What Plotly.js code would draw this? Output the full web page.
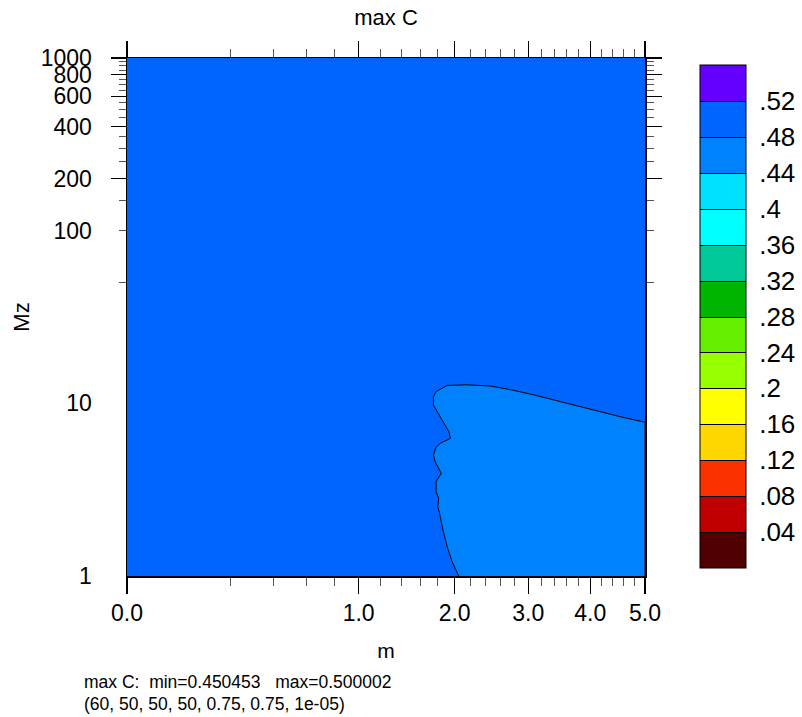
<!DOCTYPE html>
<html>
<head>
<meta charset="utf-8">
<script src="https://cdn.plot.ly/plotly-3.0.1.min.js"></script>
<style>html,body{margin:0;padding:0;background:#fff;}#chart{width:802px;height:717px;}</style>
</head>
<body>
<div id="chart"></div>
<script>
// ---- data ----
var mExtent = [0, 5];                 // m range of the field
var mzExtent = [1, 1000];             // Mz range of the field
var fieldZ = [[0.5, 0.5], [0.5, 0.5]]; // field value outside the lighter region (0.48-0.52 band)
var regionValue = 0.46;               // value band inside the lighter region (0.44-0.48)

// boundary of the 0.48 contour (m, Mz)
var boundaryM  = [2.05, 1.97, 1.91, 1.86, 1.82, 1.80, 1.81, 1.78, 1.78, 1.81, 1.84, 1.81, 1.77, 1.75, 1.78, 1.83, 1.95, 1.93, 1.87, 1.81, 1.75, 1.75, 1.78, 1.91, 2.15, 2.46, 2.74, 3.08, 3.50, 3.94, 4.53, 5.0, 5.0];
var boundaryMz = [1, 1.21, 1.48, 1.85, 2.31, 2.52, 2.82, 3.08, 3.52, 3.76, 3.93, 4.21, 4.59, 5.02, 5.57, 5.87, 6.27, 6.85, 7.66, 8.56, 9.78, 10.9, 11.7, 12.7, 12.8, 12.6, 12.0, 11.2, 10.2, 9.36, 8.37, 7.77, 1];

// contour levels and colour table
var levels = [0.04, 0.08, 0.12, 0.16, 0.20, 0.24, 0.28, 0.32, 0.36, 0.40, 0.44, 0.48, 0.52];
var levelLabels = ['.04', '.08', '.12', '.16', '.2', '.24', '.28', '.32', '.36', '.4', '.44', '.48', '.52'];
var bandColors = ['#500000', '#c00000', '#fa3200', '#ffd700', '#ffff00', '#96ff00', '#64ef00',
                  '#00b400', '#00c896', '#00ffff', '#00e1ff', '#0082ff', '#0064ff', '#6400ff'];

// axis ticks
var xTickVals = [0, 1, 2, 3, 4, 5];
var xTickText = ['0.0', '1.0', '2.0', '3.0', '4.0', '5.0'];
var xMinorVals = [0.2, 0.4, 0.6, 0.8, 1.2, 1.4, 1.6, 1.8, 2.2, 2.4, 2.6, 2.8, 3.2, 3.4, 3.6, 3.8, 4.2, 4.4, 4.6, 4.8];
var yLabelVals = [1, 10, 100, 200, 400, 600, 800, 1000];
var yLabelText = ['1', '10', '100', '200', '400', '600', '800', '1000'];
var yMajorTicks = [200, 400, 600, 800, 1000];
var yMinorVals = [50, 100, 150, 250, 300, 350, 450, 500, 550, 650, 700, 750, 850, 900, 950];

var footerLine1 = 'max C:\u00a0\u00a0min=0.450453\u00a0\u00a0\u00a0max=0.500002';
var footerLine2 = '(60, 50, 50, 50, 0.75, 0.75, 1e-05)';

// ---- build ----
var sq = function (a) { return a.map(function (v) { return Math.sqrt(v); }); };
var nLev = levels.length;
var step = levels[1] - levels[0];
var zLo = levels[0] - step, zHi = levels[nLev - 1] + step;
var nBands = bandColors.length;
var colorscale = [];
bandColors.forEach(function (c, i) {
  colorscale.push([i / nBands, c]);
  colorscale.push([(i + 1) / nBands, c]);
});

function bandColor(v) {
  var idx = Math.floor((v - zLo) / step);
  return bandColors[Math.max(0, Math.min(nBands - 1, idx))];
}

var FONT = 'Liberation Sans, Arial, Helvetica, sans-serif';

var field = {
  type: 'contour',
  x: sq(mExtent),
  y: mzExtent,
  z: fieldZ,
  xaxis: 'x', yaxis: 'y',
  autocontour: false,
  contours: {start: levels[0], end: levels[nLev - 1], size: step, coloring: 'heatmap', showlines: true},
  line: {color: '#000', width: 1},
  colorscale: colorscale,
  zauto: false, zmin: zLo, zmax: zHi,
  hoverinfo: 'skip',
  colorbar: {
    x: (700 - 127) / 518, xanchor: 'left', xref: 'paper',
    y: (576 - 316.5) / 518, yanchor: 'middle',
    thickness: 46, thicknessmode: 'pixels',
    len: 503, lenmode: 'pixels',
    outlinecolor: '#000', outlinewidth: 1,
    tickmode: 'array', tickvals: levels, ticktext: levelLabels,
    ticks: 'outside', ticklen: 8, tickcolor: 'rgba(0,0,0,0)',
    tickfont: {family: FONT, size: 26, color: '#000'},
    xpad: 0, ypad: 0, borderwidth: 0
  }
};

var region = {
  type: 'scatter', mode: 'lines',
  x: sq(boundaryM), y: boundaryMz,
  xaxis: 'x', yaxis: 'y2',
  fill: 'toself', fillcolor: bandColor(regionValue),
  line: {color: '#000', width: 1},
  hoverinfo: 'skip', showlegend: false
};

var layout = {
  width: 802, height: 717,
  margin: {l: 127, r: 157, t: 58, b: 141, pad: 0, autoexpand: false},
  paper_bgcolor: '#fff', plot_bgcolor: '#fff',
  showlegend: false,
  font: {family: FONT, color: '#000'},
  title: {text: 'max C', font: {family: FONT, size: 22, color: '#000'},
          x: 0.5, xref: 'paper', xanchor: 'center', y: 1 - 17 / 717, yref: 'container', yanchor: 'middle'},
  xaxis: {
    range: [0, Math.sqrt(5)], showgrid: false, zeroline: false, automargin: false,
    showline: true, linecolor: '#000', linewidth: 1.5, mirror: 'ticks',
    tickmode: 'array', tickvals: sq(xTickVals), ticktext: xTickText,
    ticks: 'outside', ticklen: 16, tickwidth: 1.3, tickcolor: '#000',
    tickfont: {family: FONT, size: 23, color: '#000'},
    ticklabelstandoff: 0,
    minor: {tickmode: 'array', tickvals: sq(xMinorVals), ticks: 'outside', ticklen: 8, tickwidth: 1, tickcolor: '#555', showgrid: false},
    title: {text: 'm', font: {family: FONT, size: 21, color: '#000'}, standoff: 18}
  },
  yaxis: {
    type: 'log', range: [0, 3], showgrid: false, zeroline: false, automargin: false,
    showline: true, linecolor: '#000', linewidth: 1.5, mirror: true,
    tickmode: 'array', tickvals: yLabelVals, ticktext: yLabelText,
    ticks: '', ticklabelstandoff: 29,
    tickfont: {family: FONT, size: 23, color: '#000'},
    title: {text: 'Mz', font: {family: FONT, size: 22, color: '#000'}, standoff: 5}
  },
  yaxis2: {
    type: 'log', range: [0, 3], overlaying: 'y', side: 'left', anchor: 'x', automargin: false,
    showgrid: false, zeroline: false, showticklabels: false,
    showline: true, linecolor: '#000', linewidth: 1.5, mirror: 'ticks',
    tickmode: 'array', tickvals: yMajorTicks,
    ticks: 'outside', ticklen: 15, tickwidth: 1.3, tickcolor: '#000',
    minor: {tickmode: 'array', tickvals: yMinorVals, ticks: 'outside', ticklen: 7, tickwidth: 1, tickcolor: '#555', showgrid: false}
  },
  annotations: [
    {text: footerLine1, xref: 'paper', yref: 'paper', x: (82 - 127) / 518, y: (576 - 682) / 518,
     xanchor: 'left', yanchor: 'middle', showarrow: false, font: {family: FONT, size: 17.5, color: '#000'}},
    {text: footerLine2, xref: 'paper', yref: 'paper', x: (82 - 127) / 518, y: (576 - 704) / 518,
     xanchor: 'left', yanchor: 'middle', showarrow: false, font: {family: FONT, size: 17.5, color: '#000'}}
  ]
};

Plotly.newPlot('chart', [field, region], layout, {staticPlot: true, displayModeBar: false});
</script>
</body>
</html>
